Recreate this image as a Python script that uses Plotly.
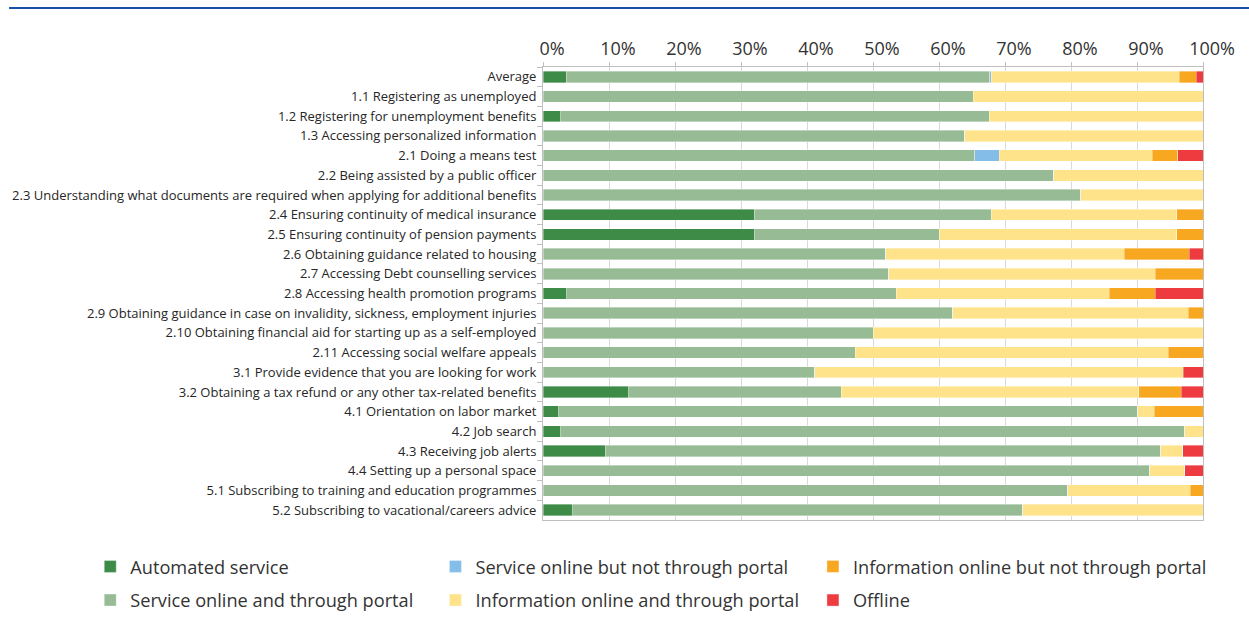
import plotly.graph_objects as go

categories = [
    "Average",
    "1.1 Registering as unemployed",
    "1.2 Registering for unemployment benefits",
    "1.3 Accessing personalized information",
    "2.1 Doing a means test",
    "2.2 Being assisted by a public officer",
    "2.3 Understanding what documents are required when applying for additional benefits",
    "2.4 Ensuring continuity of medical insurance",
    "2.5 Ensuring continuity of pension payments",
    "2.6 Obtaining guidance related to housing",
    "2.7 Accessing Debt counselling services",
    "2.8 Accessing health promotion programs",
    "2.9 Obtaining guidance in case on invalidity, sickness, employment injuries",
    "2.10 Obtaining financial aid for starting up as a self-employed",
    "2.11 Accessing social welfare appeals",
    "3.1 Provide evidence that you are looking for work",
    "3.2 Obtaining a tax refund or any other tax-related benefits",
    "4.1 Orientation on labor market",
    "4.2 Job search",
    "4.3 Receiving job alerts",
    "4.4 Setting up a personal space",
    "5.1 Subscribing to training and education programmes",
    "5.2 Subscribing to vacational/careers advice",
]

# shares in percent, one list per status
automated = [3.5, 0, 2.7, 0, 0, 0, 0, 32.0, 32.0, 0, 0, 3.6, 0, 0, 0, 0, 13.0, 2.4, 2.7, 9.4, 0, 0, 4.5]
service_portal = [64.2, 65.2, 64.9, 63.9, 65.4, 77.4, 81.5, 35.9, 28.0, 51.9, 52.4, 49.9, 62.1, 50.0, 47.3, 41.2, 32.2, 87.7, 94.5, 84.2, 91.9, 79.5, 68.2]
service_no_portal = [0.2, 0, 0, 0, 3.7, 0, 0, 0, 0, 0, 0, 0, 0, 0, 0, 0, 0, 0, 0, 0, 0, 0, 0]
info_portal = [28.5, 34.8, 32.4, 36.1, 23.2, 22.6, 18.5, 28.1, 36.0, 36.2, 40.4, 32.3, 35.7, 50.0, 47.4, 55.8, 45.1, 2.5, 2.8, 3.3, 5.3, 18.6, 27.3]
info_no_portal = [2.6, 0, 0, 0, 3.9, 0, 0, 4.0, 4.0, 9.8, 7.2, 7.0, 2.2, 0, 5.3, 0, 6.4, 7.4, 0, 0, 0, 1.9, 0]
offline = [1.0, 0, 0, 0, 3.8, 0, 0, 0, 0, 2.1, 0, 7.2, 0, 0, 0, 3.0, 3.3, 0, 0, 3.1, 2.8, 0, 0]

series = [
    ("Automated service", automated, "#3d8b47", "legend", 1),
    ("Service online and through portal", service_portal, "#97bc95", "legend", 2),
    ("Service online but not through portal", service_no_portal, "#83bde8", "legend2", 1),
    ("Information online and through portal", info_portal, "#fee38b", "legend2", 2),
    ("Information online but not through portal", info_no_portal, "#f8a820", "legend3", 1),
    ("Offline", offline, "#ee3b40", "legend3", 2),
]

fig = go.Figure()
for name, vals, color, leg, rank in series:
    fig.add_trace(go.Bar(
        y=categories, x=vals, name=name, orientation="h",
        marker=dict(color=color, line=dict(width=0.6, color="rgba(255,255,255,0.6)")),
        legend=leg, legendrank=rank, legendgroup=name,
    ))

legend_common = dict(
    orientation="v", yanchor="top", xanchor="left",
    font=dict(family="Open Sans", size=18.2, color="#333333"),
    bgcolor="rgba(0,0,0,0)", tracegroupgap=7, itemwidth=30,
    traceorder="grouped",
)

fig.update_layout(
    width=1249, height=619,
    barmode="stack", bargap=0.42,
    plot_bgcolor="white", paper_bgcolor="white",
    margin=dict(l=543, r=46, t=67, b=99, autoexpand=False),
    font=dict(family="Open Sans", size=13, color="#262626"),
    xaxis=dict(
        side="top", range=[0, 100], dtick=10, ticksuffix="%",
        showgrid=True, gridcolor="#d9d9d9", gridwidth=1,
        showline=True, linecolor="#bfbfbf", linewidth=1, mirror=True,
        ticks="outside", ticklen=4, tickcolor="#bfbfbf",
        tickfont=dict(size=18, color="#333333"), ticklabelshift=9,
        zeroline=False, fixedrange=True,
    ),
    yaxis=dict(
        autorange="reversed", showline=True, linecolor="#bfbfbf", linewidth=1,
        mirror=True, ticks="outside", ticklen=5, tickcolor="#bfbfbf",
        tickson="boundaries", tickfont=dict(size=13, color="#262626"),
        ticklabelstandoff=3, showgrid=False,
    ),
    legend=dict(x=-0.686, y=-0.062, **legend_common),
    legend2=dict(x=-0.163, y=-0.062, **legend_common),
    legend3=dict(x=0.409, y=-0.062, **legend_common),
    shapes=[
        dict(type="line", xref="paper", yref="paper",
             x0=-0.809, x1=1.07, y0=1.130, y1=1.130,
             line=dict(color="#1a4fa8", width=2)),
    ],
)

fig.write_html("out.html")
